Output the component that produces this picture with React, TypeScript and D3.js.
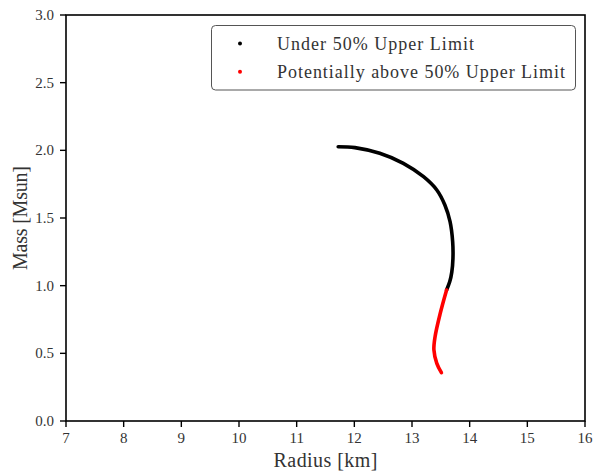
import React from "react";
import * as d3 from "d3";

const xTicks = [7, 8, 9, 10, 11, 12, 13, 14, 15, 16];
const yTicks = [0, 0.5, 1.0, 1.5, 2.0, 2.5, 3.0];

// Under 50% upper limit (black)
const blackRadius = [11.72, 12.01, 12.44, 12.85, 13.2, 13.43, 13.57, 13.66, 13.705, 13.71, 13.69, 13.655, 13.6];
const blackMass = [2.027, 2.02, 1.978, 1.904, 1.805, 1.707, 1.596, 1.473, 1.325, 1.2, 1.1, 1.03, 0.968];

// Potentially above 50% upper limit (red)
const redRadius = [13.6, 13.49, 13.4, 13.38, 13.43, 13.51];
const redMass = [0.968, 0.796, 0.623, 0.525, 0.426, 0.357];

const legendLabels = ["Under 50% Upper Limit", "Potentially above 50% Upper Limit"];
const legendColors = ["#000000", "#ff0000"];
const legendWidths = [197, 288];

const FONT = "'Liberation Serif', 'DejaVu Serif', serif";

export default function App() {
  const W = 594, H = 472;
  const left = 66, right = 585, top = 15, bottom = 421;
  const x = d3.scaleLinear().domain([7, 16]).range([left, right]);
  const y = d3.scaleLinear().domain([0, 3]).range([bottom, top]);
  const line = d3
    .line<[number, number]>()
    .x((d) => x(d[0]))
    .y((d) => y(d[1]))
    .curve(d3.curveCatmullRom.alpha(0.5));
  const blackPts = blackRadius.map((r, i) => [r, blackMass[i]] as [number, number]);
  const redPts = redRadius.map((r, i) => [r, redMass[i]] as [number, number]);

  return (
    <svg width={W} height={H} style={{ display: "block", position: "absolute", left: 0, top: 0 }}>
      <rect width={W} height={H} fill="#fff" />
      <path d={line(blackPts) || ""} fill="none" stroke="#000" strokeWidth={3.6} strokeLinecap="round" />
      <path d={line(redPts) || ""} fill="none" stroke="#ff0000" strokeWidth={3.6} strokeLinecap="round" />
      {/* frame */}
      <rect x={left} y={top} width={right - left} height={bottom - top} fill="none" stroke="#000" strokeWidth={1.6} />
      {xTicks.map((t) => (
        <g key={"x" + t}>
          <line x1={x(t)} x2={x(t)} y1={bottom} y2={bottom + 6} stroke="#000" strokeWidth={1.4} />
          <text x={x(t)} y={443} textAnchor="middle" fontFamily={FONT} fontSize={15} fill="#333">
            {t}
          </text>
        </g>
      ))}
      {yTicks.map((t) => (
        <g key={"y" + t}>
          <line x1={left - 6} x2={left} y1={y(t)} y2={y(t)} stroke="#000" strokeWidth={1.4} />
          <text x={54} y={y(t) + 5} textAnchor="end" fontFamily={FONT} fontSize={15} fill="#333">
            {t.toFixed(1)}
          </text>
        </g>
      ))}
      <text x={(left + right) / 2} y={467} textAnchor="middle" fontFamily={FONT} fontSize={20} fill="#333" textLength={104}>
        Radius [km]
      </text>
      <text
        transform={`translate(27,${(top + bottom) / 2}) rotate(-90)`}
        textAnchor="middle"
        fontFamily={FONT}
        fontSize={20}
        fill="#333"
        textLength={104}
      >
        Mass [Msun]
      </text>
      {/* legend */}
      <rect x={211.5} y={25.5} width={364} height={64.5} rx={4} fill="#fff" stroke="#555" strokeWidth={1} />
      {legendLabels.map((l, i) => (
        <g key={l}>
          <circle cx={240} cy={43.5 + i * 28.3} r={2} fill={legendColors[i]} />
          <text x={277} y={49.5 + i * 28.3} fontFamily={FONT} fontSize={18} fill="#333" textLength={legendWidths[i]}>
            {l}
          </text>
        </g>
      ))}
    </svg>
  );
}
